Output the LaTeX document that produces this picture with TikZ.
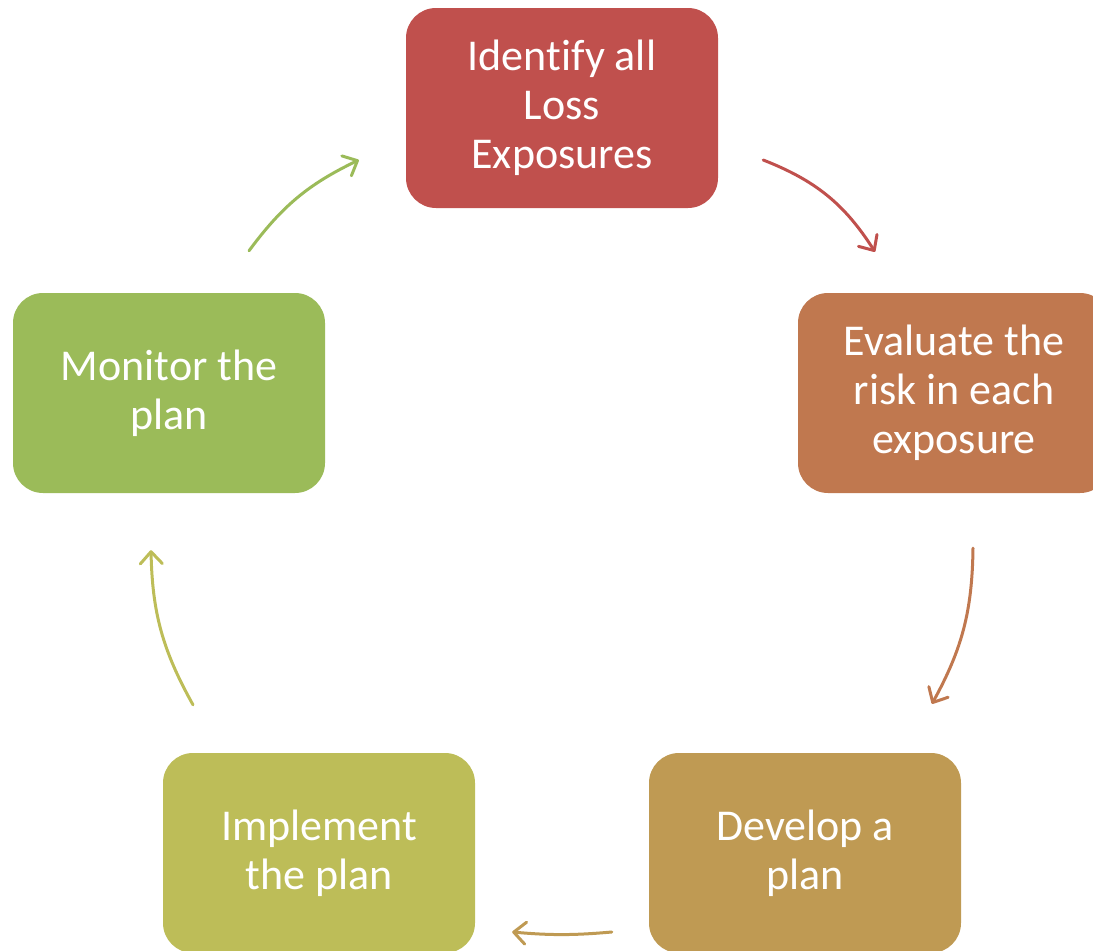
\documentclass[tikz,border=0pt]{standalone}
\usepackage{fontspec}
\setmainfont{Carlito}[RawFeature={-liga}]
\usetikzlibrary{arrows.meta,calc}
\definecolor{cRed}{HTML}{C0504D}
\definecolor{cOrange}{HTML}{C0784F}
\definecolor{cGold}{HTML}{BF9A53}
\definecolor{cYellow}{HTML}{BDBD58}
\definecolor{cGreen}{HTML}{9BBB59}
\tikzset{
  stagebox/.style={rectangle, rounded corners=30pt, minimum width=312pt, minimum height=200pt,
    inner sep=0pt, draw=none, fill=#1, text=white, align=center,
    font=\fontsize{44}{49}\selectfont},
  cyclearrow/.style={draw=#1, line width=3pt, line cap=round,
    -{Straight Barb[length=12pt,width=22pt,line cap=round,line join=round]}},
}
\begin{document}
\begin{tikzpicture}[x=1pt,y=-1pt]
\useasboundingbox (0,0) rectangle (1093,951);
\clip (0,0) rectangle (1093,951);
\node[stagebox=cRed] (idf) at (562,108) {Identify all\\Loss\\Exposures};
\node[stagebox=cOrange] (eval) at (954,393) {Evaluate the\\risk in each\\exposure};
\node[stagebox=cGold] (dev) at (805,853) {Develop a\\plan};
\node[stagebox=cYellow] (imp) at (319,853) {Implement\\the plan};
\node[stagebox=cGreen] (mon) at (169,393) {Monitor the\\plan};
\draw[cyclearrow=cRed] ($(idf.east)+(45,52)$) to[bend left=18] ($(eval.north)+(-79,-41)$);
\draw[cyclearrow=cOrange] ($(eval.south)+(19,55)$) to[bend left=14] ($(dev.north)+(127,-49)$);
\draw[cyclearrow=cGold] ($(dev.west)+(-37,79)$) to[bend left=5] ($(imp.east)+(37,79)$);
\draw[cyclearrow=cYellow] ($(imp.north)+(-126,-48)$) to[bend left=14] ($(mon.south)+(-18,57)$);
\draw[cyclearrow=cGreen] ($(mon.north)+(80,-42)$) to[bend left=14] ($(idf.west)+(-47,52)$);
\end{tikzpicture}
\end{document}
